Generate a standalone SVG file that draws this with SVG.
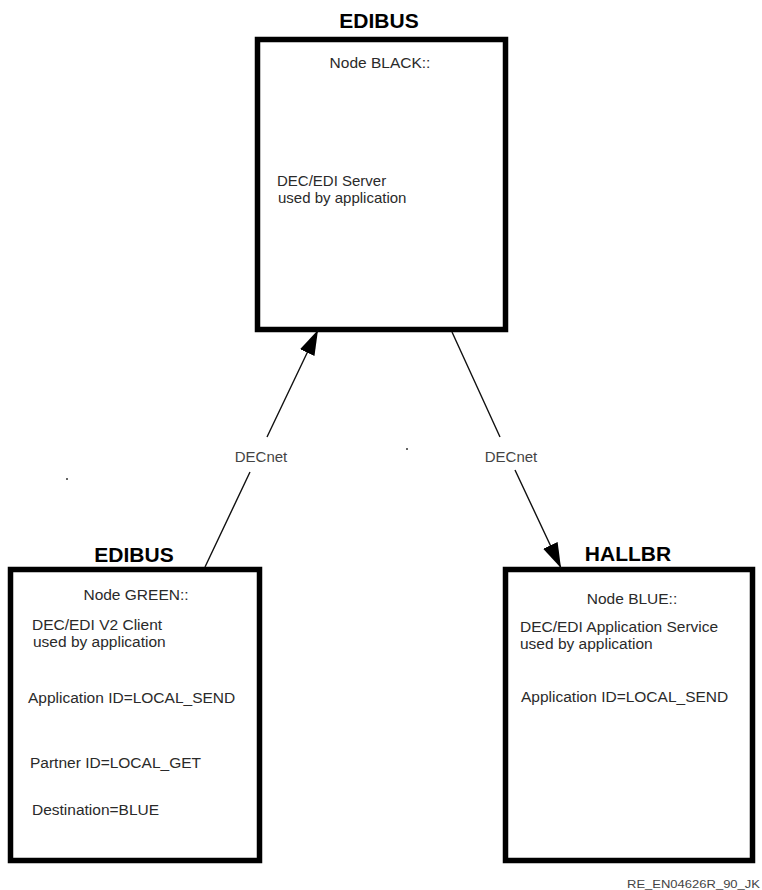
<svg xmlns="http://www.w3.org/2000/svg" width="762" height="890" viewBox="0 0 762 890">
<style>
.box{fill:#fff;stroke:#000;stroke-width:5.5}
.title{font-family:"Liberation Sans",Arial,sans-serif;font-weight:bold;font-size:21px;fill:#000;text-anchor:middle}
.t{font-family:"Liberation Sans",Arial,sans-serif;font-size:15.5px;fill:#2a2a2a}
.s{font-size:15px}
.c{text-anchor:middle}
.conn{fill:none;stroke:#111;stroke-width:1.4}
.lbl{font-family:"Liberation Sans",Arial,sans-serif;font-size:15px;fill:#444;text-anchor:middle}
</style>
<defs>
<marker id="arr" markerUnits="userSpaceOnUse" markerWidth="26" markerHeight="16" refX="25" refY="8" orient="auto" viewBox="0 0 26 16">
<path d="M0,0 L25,8 L0,16 z" fill="#000"/>
</marker>
</defs>
<rect width="762" height="890" fill="#fff"/>
<g id="black">
<text class="title" x="379" y="28">EDIBUS</text>
<rect class="box" x="257.5" y="39.5" width="248" height="290"/>
<text class="t c" x="380" y="68">Node BLACK::</text>
<text class="t s" x="277" y="186">DEC/EDI Server</text>
<text class="t s" x="278" y="203">used by application</text>
</g>
<g id="green">
<text class="title" x="134" y="562">EDIBUS</text>
<rect class="box" x="10.5" y="569.5" width="249" height="291"/>
<text class="t c" x="136" y="600">Node GREEN::</text>
<text class="t" x="32" y="630">DEC/EDI V2 Client</text>
<text class="t" x="33" y="647">used by application</text>
<text class="t" x="28" y="703">Application ID=LOCAL_SEND</text>
<text class="t" x="30" y="768">Partner ID=LOCAL_GET</text>
<text class="t" x="32" y="815">Destination=BLUE</text>
</g>
<g id="blue">
<text class="title" x="628" y="561">HALLBR</text>
<rect class="box" x="505.5" y="569.5" width="247" height="291"/>
<text class="t c" x="632" y="604">Node BLUE::</text>
<text class="t" x="520" y="632">DEC/EDI Application Service</text>
<text class="t" x="520" y="649">used by application</text>
<text class="t" x="521" y="702">Application ID=LOCAL_SEND</text>
</g>
<g id="connectors">
<path class="conn" d="M205,567 L250,472 M267,437 L318,330" marker-end="url(#arr)"/>
<text class="lbl" x="261" y="462">DECnet</text>
<path class="conn" d="M452,332 L500,437 M515,470 L561,568" marker-end="url(#arr)"/>
<text class="lbl" x="511" y="462">DECnet</text>
</g>
<circle cx="67" cy="479" r="1" fill="#333"/>
<circle cx="407" cy="449" r="1" fill="#333"/>
<text x="627" y="888" font-family="'Liberation Sans',Arial,sans-serif" font-size="10.5" fill="#444" textLength="133" lengthAdjust="spacingAndGlyphs">RE_EN04626R_90_JK</text>
</svg>
